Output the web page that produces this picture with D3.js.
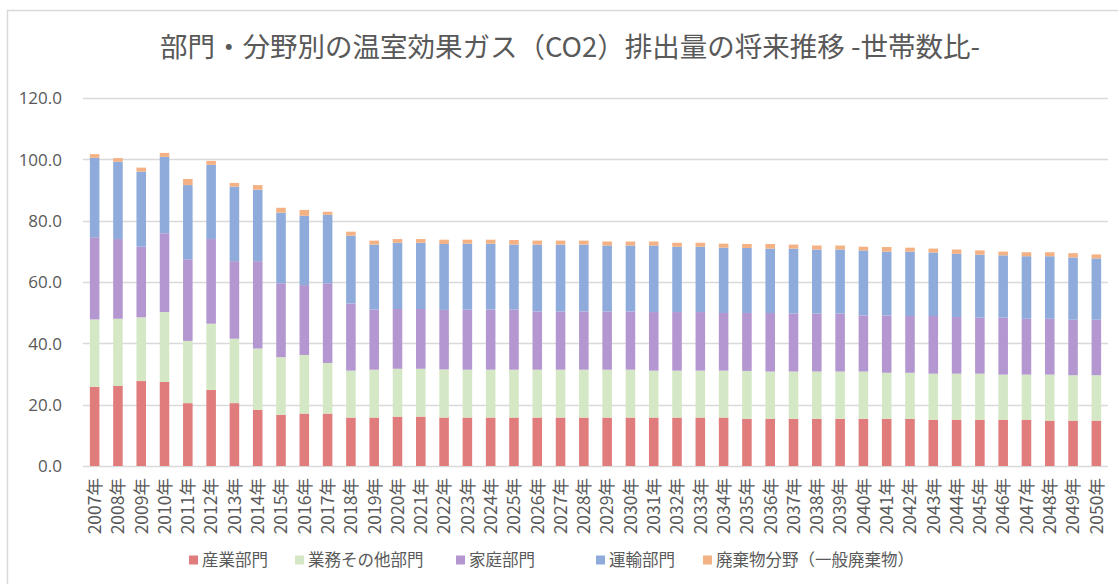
<!DOCTYPE html>
<html>
<head>
<meta charset="utf-8">
<script src="https://cdn.jsdelivr.net/npm/d3@7"></script>
<style>
  body { margin: 0; background: #fff; }
  text { font-family: "Noto Sans CJK JP", "Open Sans", sans-serif; fill: #595959; }
</style>
</head>
<body>
<div id="chart"></div>
<script>
const width = 1118;
const height = 584;

// years on the x axis
const years = d3.range(2007, 2051).map(y => y + "年");

// series names (legend order = stack order, bottom to top)
const seriesNames = ["産業部門", "業務その他部門", "家庭部門", "運輸部門", "廃棄物分野（一般廃棄物）"];

// values
const industry = [25.8, 26.1, 27.7, 27.4, 20.5, 24.8, 20.5, 18.3, 16.7, 17.1, 17.1, 15.8, 15.8, 16.1, 16.1,
  15.8, 15.8, 15.8, 15.8, 15.8, 15.8, 15.8, 15.8, 15.8, 15.8, 15.8, 15.8, 15.8,
  15.4, 15.4, 15.4, 15.4, 15.4, 15.4, 15.4, 15.4, 15.1, 15.1, 15.1, 15.1, 15.1, 14.8, 14.8, 14.8];
const business = [22.0, 21.9, 20.8, 22.8, 20.3, 21.6, 21.0, 20.0, 18.8, 19.1, 16.5, 15.3, 15.6, 15.6, 15.6,
  15.7, 15.6, 15.6, 15.6, 15.6, 15.6, 15.6, 15.6, 15.6, 15.3, 15.3, 15.3, 15.3,
  15.6, 15.4, 15.4, 15.4, 15.4, 15.4, 15.0, 15.0, 15.0, 15.0, 15.0, 14.7, 14.7, 15.0, 14.8, 14.8];
const household = [26.8, 26.0, 23.0, 25.7, 26.6, 27.6, 25.3, 28.5, 24.1, 22.8, 26.0, 21.9, 19.6, 19.5, 19.5,
  19.4, 19.6, 19.6, 19.6, 19.0, 19.0, 19.0, 19.0, 19.0, 19.1, 19.1, 19.1, 18.8,
  18.9, 19.1, 18.9, 18.9, 18.9, 18.3, 18.7, 18.5, 18.8, 18.5, 18.3, 18.6, 18.2, 18.2, 18.1, 18.1];
const transport = [25.9, 25.2, 24.5, 24.9, 24.2, 24.2, 24.3, 23.3, 23.0, 22.6, 22.3, 22.1, 21.2, 21.6, 21.6,
  21.5, 21.5, 21.5, 21.2, 21.8, 21.8, 21.8, 21.5, 21.5, 21.7, 21.3, 21.3, 21.3,
  21.2, 21.0, 21.2, 20.9, 20.9, 21.2, 20.8, 21.0, 20.7, 20.6, 20.5, 20.3, 20.4, 20.4, 20.3, 20.0];
const waste = [1.2, 1.2, 1.3, 1.3, 2.0, 1.3, 1.2, 1.5, 1.6, 1.9, 1.0, 1.3, 1.3, 1.2, 1.2,
  1.4, 1.3, 1.3, 1.5, 1.3, 1.3, 1.3, 1.3, 1.3, 1.3, 1.3, 1.3, 1.3,
  1.3, 1.5, 1.3, 1.3, 1.3, 1.2, 1.5, 1.3, 1.3, 1.4, 1.4, 1.2, 1.3, 1.3, 1.4, 1.3];

const yTicks = [0, 20, 40, 60, 80, 100, 120];

const colors = ["#e07c7c", "#d5e8c5", "#b497d0", "#8fabdc", "#f4b183"];

const seriesValues = [industry, business, household, transport, waste];
const table = years.map((yr, i) => {
  const row = { year: yr };
  seriesNames.forEach((s, k) => row[s] = seriesValues[k][i]);
  return row;
});

const margin = { top: 98, right: 10, bottom: 118, left: 83 };

const svg = d3.select("#chart").append("svg")
    .attr("width", width)
    .attr("height", height);

// chart frame (only left/top edges are visible in the picture)
svg.append("path")
    .attr("d", `M7.5,${height} V10.5 H${width}`)
    .attr("fill", "none")
    .attr("stroke", "#d9d9d9")
    .attr("stroke-width", 1.5);

const x = d3.scaleBand()
    .domain(years)
    .range([margin.left, width - margin.right])
    .paddingInner(0.59)
    .paddingOuter(0.295);

const y = d3.scaleLinear()
    .domain([0, 120])
    .range([height - margin.bottom, margin.top]);

// gridlines
svg.append("g")
  .selectAll("line")
  .data(yTicks)
  .join("line")
    .attr("x1", margin.left)
    .attr("x2", width - margin.right)
    .attr("y1", d => Math.round(y(d)) + 0.5)
    .attr("y2", d => Math.round(y(d)) + 0.5)
    .attr("stroke", "#d9d9d9")
    .attr("stroke-width", 1.3);

// y axis labels
const yAxis = svg.append("g")
    .attr("transform", `translate(${margin.left - 21},0)`)
    .call(d3.axisLeft(y).tickValues(yTicks).tickFormat(d3.format(".1f")).tickSize(0).tickPadding(0));
yAxis.select(".domain").remove();
yAxis.selectAll("text")
    .style("font-family", "'Open Sans', sans-serif")
    .style("font-size", "17px")
    .attr("fill", "#595959")
    .attr("dy", "0.35em");

// stacked bars
const stack = d3.stack().keys(seriesNames);
const stacked = stack(table);

svg.append("g")
  .selectAll("g")
  .data(stacked)
  .join("g")
    .attr("fill", (d, i) => colors[i])
  .selectAll("rect")
  .data(d => d)
  .join("rect")
    .attr("x", d => x(d.data.year))
    .attr("width", x.bandwidth())
    .attr("y", d => y(d[1]))
    .attr("height", d => y(d[0]) - y(d[1]));

// x axis labels (rotated)
const xAxis = svg.append("g")
    .attr("transform", `translate(0,${height - margin.bottom})`)
    .call(d3.axisBottom(x).tickSize(0).tickPadding(0));
xAxis.select(".domain").remove();
xAxis.selectAll("text")
    .attr("fill", "#595959")
    .style("font-size", "17.5px")
    .attr("text-anchor", "end")
    .attr("transform", "rotate(-90)")
    .attr("x", -12)
    .attr("y", 0)
    .attr("dy", "0.36em");

// title
svg.append("text")
    .attr("x", 570)
    .attr("y", 57)
    .attr("text-anchor", "middle")
    .style("font-size", "27.5px")
    .text("部門・分野別の温室効果ガス（CO2）排出量の将来推移 -世帯数比-");

// legend
const legendX = [189, 295, 456, 596, 703];
const legend = svg.append("g")
  .selectAll("g")
  .data(seriesNames)
  .join("g")
    .attr("transform", (d, i) => `translate(${legendX[i]},560)`);
legend.append("rect")
    .attr("x", 0)
    .attr("y", -4.5)
    .attr("width", 9)
    .attr("height", 9)
    .attr("fill", (d, i) => colors[i]);
legend.append("text")
    .attr("x", 13)
    .attr("dy", "0.35em")
    .style("font-size", "16.5px")
    .text(d => d);
</script>
</body>
</html>
